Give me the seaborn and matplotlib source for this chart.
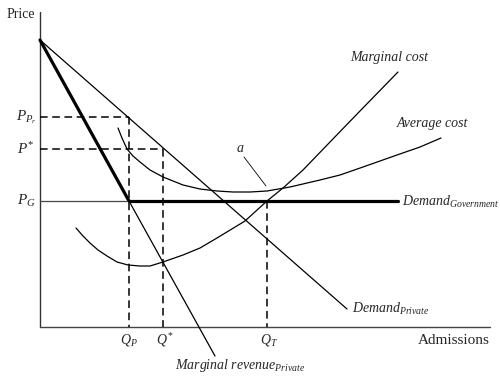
import numpy as np
import matplotlib
matplotlib.use("Agg")
import matplotlib.pyplot as plt
import seaborn as sns

sns.set_style("white")
plt.rcParams['font.family'] = ['Liberation Serif', 'DejaVu Serif']
plt.rcParams['mathtext.fontset'] = 'custom'
plt.rcParams['mathtext.it'] = 'Liberation Serif:italic'
plt.rcParams['mathtext.rm'] = 'Liberation Serif'

# values (admissions vs price, arbitrary units)
demand_q = [0, 307]
demand_p = [287, 18]

mr_thick_q = [0, 89]
mr_thick_p = [287, 126]
mr_thin_q = [89, 175]
mr_thin_p = [126, -29]

gov_thin_q = [0, 89]
gov_thin_p = [126, 126]
gov_thick_q = [89, 358]
gov_thick_p = [126, 126]

ac_q = [78, 82, 87, 93, 100, 110, 123, 143, 160, 177, 193, 210, 227, 250, 280, 300, 323, 357, 380, 401]
ac_p = [199, 189, 178, 171, 165, 157, 150, 142, 138, 136, 135, 135, 136, 140, 147, 152, 160, 172, 180, 189]

mc_q = [36, 43, 50, 58, 67, 77, 88, 100, 110, 123, 143, 160, 177, 205, 227, 243, 263, 290, 320, 358]
mc_p = [99, 91, 84, 77, 71, 65, 62, 61, 61, 65, 72, 79, 89, 106, 126, 139, 157, 185, 216, 255]

q_p, q_star, q_t = 89, 123, 227
p_pr, p_star, p_g = 210, 178, 126

fig = plt.figure(figsize=(5.0, 3.78), dpi=100)
ax = fig.add_axes([0, 0, 1, 1])
ax.set_xlim(-40, 460)
ax.set_ylim(-51, 327)
ax.axis('off')

# axes lines
sns.lineplot(x=[0, 0], y=[0, 315], ax=ax, color='#333333', lw=1.0, estimator=None, sort=False)
sns.lineplot(x=[0, 450], y=[0, 0], ax=ax, color='#444444', lw=1.0, estimator=None, sort=False)

# dashed guides
dash = (0, (5, 3))
guides = [([0, q_p], [p_pr, p_pr]), ([q_p, q_p], [p_pr, 0]),
          ([0, q_star], [p_star, p_star]), ([q_star, q_star], [p_star, 0]),
          ([q_t, q_t], [p_g, 0])]
for gx, gy in guides:
    sns.lineplot(x=gx, y=gy, ax=ax, color='black', lw=1.1, linestyle=dash,
                 estimator=None, sort=False)

# curves
sns.lineplot(x=demand_q, y=demand_p, ax=ax, color='black', lw=0.9, estimator=None, sort=False)
sns.lineplot(x=mr_thick_q, y=mr_thick_p, ax=ax, color='black', lw=2.3, estimator=None, sort=False)
sns.lineplot(x=mr_thin_q, y=mr_thin_p, ax=ax, color='black', lw=0.9, estimator=None, sort=False)
sns.lineplot(x=gov_thin_q, y=gov_thin_p, ax=ax, color='#444444', lw=0.9, estimator=None, sort=False)
sns.lineplot(x=gov_thick_q, y=gov_thick_p, ax=ax, color='black', lw=2.3, estimator=None, sort=False)
sns.lineplot(x=ac_q, y=ac_p, ax=ax, color='black', lw=0.9, estimator=None, sort=False)
sns.lineplot(x=mc_q, y=mc_p, ax=ax, color='black', lw=0.9, estimator=None, sort=False)

# leader for point a
sns.lineplot(x=[204, 226], y=[170, 141], ax=ax, color='black', lw=0.6, estimator=None, sort=False)

# labels
ax.text(-33, 312, 'Price', fontsize=10, ha='left', va='center')
ax.text(378, -13, 'Admissions', fontsize=11, ha='left', va='center')
ax.text(-3, p_pr, r'$P_{P_r}$', fontsize=11, ha='right', va='center')
ax.text(-6, p_star, r'$P^{*}$', fontsize=11, ha='right', va='center')
ax.text(-4, p_g, r'$P_G$', fontsize=11, ha='right', va='center')
ax.text(q_p, -13, r'$Q_P$', fontsize=10, ha='center', va='center')
ax.text(q_star + 2, -13, r'$Q^{*}$', fontsize=10, ha='center', va='center')
ax.text(q_t + 2, -13, r'$Q_T$', fontsize=10, ha='center', va='center')
ax.text(310, 269, 'Marginal cost', fontsize=10, style='italic', ha='left', va='center')
ax.text(357, 204, 'Average cost', fontsize=10, style='italic', ha='left', va='center')
ax.text(200, 179, 'a', fontsize=10, style='italic', ha='center', va='center')
ax.text(362, 125, r'$\mathit{Demand}_{\mathit{Government}}$', fontsize=10, ha='left', va='center')
ax.text(312, 18, r'$\mathit{Demand}_{\mathit{Private}}$', fontsize=10, ha='left', va='center')
ax.text(135, -38, r'$\mathit{Marginal\ revenue}_{\mathit{Private}}$', fontsize=10, ha='left', va='center')

fig.savefig('out.png', dpi=100)
